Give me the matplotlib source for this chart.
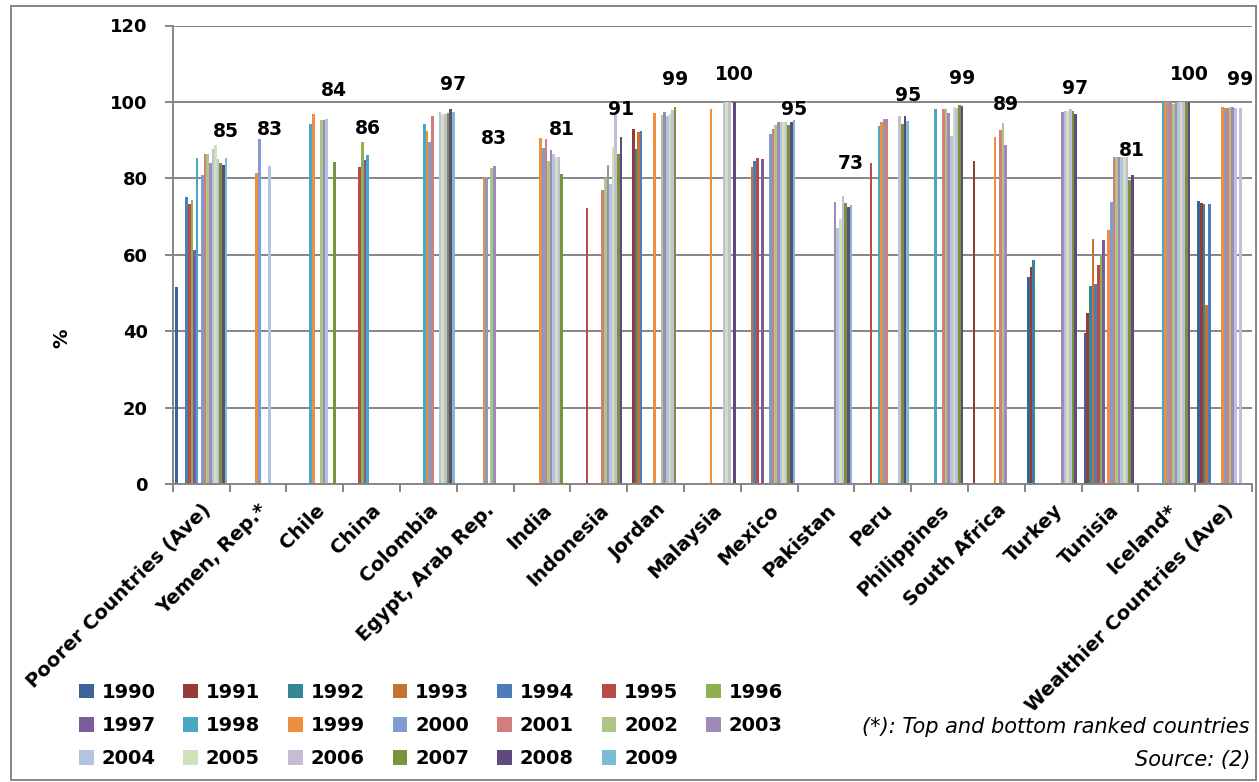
import numpy as np
import matplotlib
matplotlib.use("Agg")
import matplotlib.pyplot as plt
from matplotlib.patches import Rectangle

nan = np.nan

countries = ["Poorer Countries (Ave)", "Yemen, Rep.*", "Chile", "China", "Colombia",
             "Egypt, Arab Rep.", "India", "Indonesia", "Jordan", "Malaysia", "Mexico",
             "Pakistan", "Peru", "Philippines", "South Africa", "Turkey", "Tunisia",
             "Iceland*", "Wealthier Countries (Ave)"]
years = list(range(1990, 2010))

# one row per country, 1990 ... 2009 (nan = no data)
poorer = [51.6, nan, nan, nan, 75.2, 73.2, 74.3, 61.3, 85.3, nan,
          80.9, 86.4, 86.4, 84.1, 87.6, 88.6, 85.1, 83.9, 83.5, 85.3]
yemen = [nan, nan, nan, nan, nan, nan, nan, nan, nan, 81.3,
         90.3, nan, nan, nan, 83.2, nan, nan, nan, nan, nan]
chile = [nan, nan, nan, nan, nan, nan, nan, nan, 94.2, 96.8,
         nan, nan, 95.3, 95.2, 95.5, nan, nan, 84.4, nan, nan]
china = [nan, nan, nan, nan, nan, 82.9, 89.4, 84.8, 86.0, nan,
         nan, nan, nan, nan, nan, nan, nan, nan, nan, nan]
colombia = [nan, nan, nan, nan, nan, nan, nan, nan, 94.2, 92.5,
            89.4, 96.4, nan, nan, 97.4, 96.9, 96.9, 97.0, 98.1, 97.3]
egypt = [nan, nan, nan, nan, nan, nan, nan, nan, nan, 80.3,
         80.3, nan, 82.6, 83.1, nan, nan, nan, nan, nan, nan]
india = [nan, nan, nan, nan, nan, nan, nan, nan, nan, 90.5,
         88.0, 90.3, 84.6, 87.4, 86.4, 85.7, 85.7, 81.2, nan, nan]
indonesia = [nan, nan, nan, nan, nan, 72.2, nan, nan, nan, nan,
             nan, 77.0, 80.2, 83.5, 78.5, 88.1, 96.6, 86.4, 90.9, nan]
jordan = [nan, 92.8, 87.6, 92.0, 92.4, nan, nan, nan, nan, 97.0,
          nan, nan, 96.6, 97.3, 96.3, 96.8, 97.9, 98.8, nan, nan]
malaysia = [nan, nan, nan, nan, nan, nan, nan, nan, nan, 98.1,
            nan, nan, nan, nan, 100.0, 100.0, 100.0, nan, 100.0, nan]
mexico = [nan, nan, nan, 82.9, 84.5, 85.3, nan, 85.1, nan, nan,
          91.5, 92.8, 93.9, 94.7, 94.7, 94.7, 94.8, 94.0, 94.8, 95.2]
pakistan = [nan, nan, nan, nan, nan, nan, nan, nan, nan, nan,
            nan, nan, nan, 73.7, 66.9, 69.3, 75.4, 73.5, 72.6, 73.0]
peru = [nan, nan, nan, nan, nan, 83.9, nan, nan, 93.6, 94.8,
        95.5, 95.5, nan, nan, nan, nan, 96.2, 94.1, 96.2, 95.0]
philippines = [nan, nan, nan, nan, nan, nan, nan, nan, 98.1, nan,
               nan, 98.1, 98.1, 97.0, 91.2, 98.6, 98.3, 99.2, 99.0, nan]
south_africa = [nan, 84.6, nan, nan, nan, nan, nan, nan, nan, 90.7,
                nan, 92.7, 94.4, 88.7, nan, nan, nan, nan, nan, nan]
turkey = [54.3, 56.7, 58.5, nan, nan, nan, nan, nan, nan, nan,
          nan, nan, nan, 97.3, 97.5, 97.6, 98.1, 97.6, 96.8, nan]
tunisia = [39.4, 44.7, 51.7, 64.1, 52.4, 57.3, 60.2, 63.9, nan, 66.5,
           73.9, 85.7, 85.7, 85.7, 85.7, 85.7, 85.7, 79.6, 80.9, nan]
iceland = [nan, nan, nan, nan, nan, nan, nan, nan, 100.0, 100.0,
           100.0, 100.0, 99.4, 100.0, 100.0, 100.0, 100.0, 100.0, 100.0, nan]
wealthier = [74.1, 73.5, 73.2, 46.9, 73.3, nan, nan, nan, nan, 98.6,
             98.4, 98.5, 98.6, 98.6, 98.4, nan, 98.5, nan, nan, nan]

rows = [poorer, yemen, chile, china, colombia, egypt, india, indonesia, jordan,
        malaysia, mexico, pakistan, peru, philippines, south_africa, turkey,
        tunisia, iceland, wealthier]
values = np.array(rows, dtype=float)

colors = ["#3D6499", "#953B39", "#36869A", "#C47330", "#4A7DBA", "#B94A48",
          "#8FB04F", "#7A5C9F", "#48A7C1", "#EC8F3E", "#7F9ECF", "#D07F7D",
          "#ADC686", "#9E8BBA", "#B3C4E2", "#D0E0B9", "#C5BDD6", "#77933C",
          "#5F4A7D", "#7BBCD2"]

# height of the value label above each group (data units)
label_y = [92.2, 92.7, 103.1, 93.1, 104.5, 90.3, 92.7, 98.1, 105.9, 107.1,
           98.1, 84.0, 101.8, 106.2, 99.2, 103.6, 87.4, 107.1, 105.8]

plt.rcParams["font.family"] = "DejaVu Sans"
plt.rcParams["font.weight"] = "bold"

W, H = 1259, 782
fig = plt.figure(figsize=(W / 100, H / 100), dpi=100)
ax = fig.add_axes([172.7 / W, 1 - 484 / H, (1252 - 172.7) / W, (484 - 25.5) / H])

grey = "#868686"
x = np.arange(len(countries))
n = len(years)
w = 1 / (n + 1.7)
offsets = -n * w / 2 + (np.arange(n) + 0.5) * w

handles = []
for k, yr in enumerate(years):
    b = ax.bar(x + offsets[k], values[:, k], width=w, color=colors[k],
               linewidth=0, label=str(yr), zorder=2)
    handles.append(b)

# value label over the latest available year
for i in range(len(countries)):
    idx = np.where(~np.isnan(values[i]))[0][-1]
    v = values[i, idx]
    ax.text(x[i] + offsets[idx], label_y[i], "%d" % int(np.floor(v + 0.5)),
            ha="center", va="center", fontsize=13.5, fontweight="bold")

ax.set_xlim(-0.5, len(countries) - 0.5)
ax.set_ylim(0, 120)
ax.set_yticks(np.arange(0, 121, 20))
ax.yaxis.grid(True, color=grey, linewidth=1.4, zorder=0)
ax.set_axisbelow(True)
for s in ["top", "right"]:
    ax.spines[s].set_visible(False)
for s in ["left", "bottom"]:
    ax.spines[s].set_color(grey)
    ax.spines[s].set_linewidth(1.4)

ax.tick_params(axis="y", length=6, width=1.4, color=grey, pad=12, labelsize=13)
ax.set_xticks(x)
ax.set_xticks(np.arange(-0.5, len(countries), 1), minor=True)
ax.tick_params(axis="x", which="major", length=0, pad=12)
ax.tick_params(axis="x", which="minor", length=6, width=1.4, color=grey)
ax.set_xticklabels(countries, rotation=45, ha="right", va="top",
                   rotation_mode="anchor", fontsize=14, fontweight="bold")

fig.text(62 / W, 1 - 338 / H, "%", rotation=90, ha="center", va="center",
         fontsize=14, fontweight="bold")

# legend laid out row by row (1990-1996 / 1997-2003 / 2004-2009)
order = []
for j in range(7):
    for r in range(3):
        k = r * 7 + j
        if k < n:
            order.append(k)
fig.legend([handles[k] for k in order], [str(years[k]) for k in order],
           ncol=7, loc="upper left", bbox_to_anchor=(79 / W, 1 - 683 / H),
           frameon=False, prop={"size": 14, "weight": "bold"},
           handlelength=0.75, handleheight=0.75, handletextpad=0.4,
           columnspacing=1.44, labelspacing=0.73, borderpad=0, borderaxespad=0)

fig.text(1250 / W, 1 - 727 / H, "(*): Top and bottom ranked countries",
         ha="right", va="center", fontsize=15, style="italic", fontweight="normal")
fig.text(1250 / W, 1 - 760 / H, "Source: (2)", ha="right", va="center",
         fontsize=15, style="italic", fontweight="normal")

fig.add_artist(Rectangle((11 / W, 2 / H), (1256 - 11) / W, (776 - 2) / H,
                         transform=fig.transFigure, fill=False,
                         edgecolor=grey, linewidth=1.4))

fig.savefig("out.png", dpi=100)
